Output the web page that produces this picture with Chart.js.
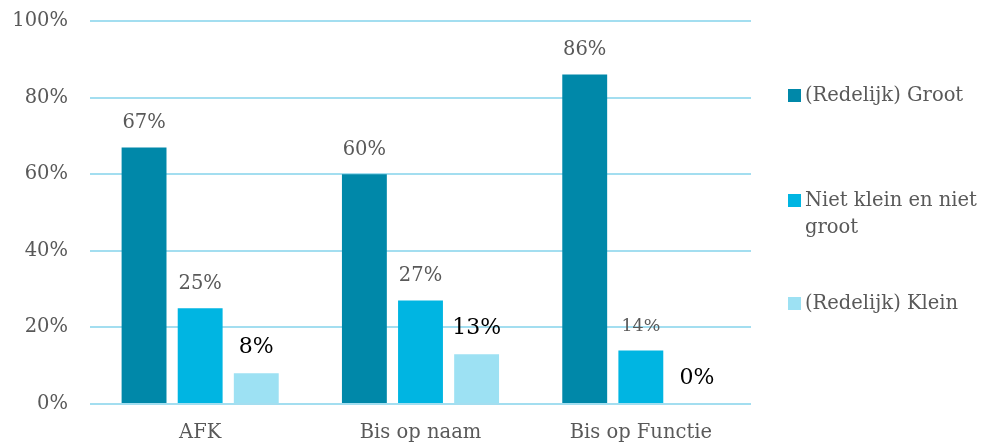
<!DOCTYPE html>
<html lang="nl">
<head>
<meta charset="utf-8">
<title>Grafiek</title>
<script src="https://cdn.jsdelivr.net/npm/chart.js"></script>
<style>
  html, body { margin: 0; padding: 0; background: #ffffff; }
  #wrap { position: relative; width: 995px; height: 446px; }
  #legenda { position: absolute; left: 0; top: 0; width: 995px; height: 446px; pointer-events: none; }
  .item { position: absolute; left: 788px; display: flex; align-items: flex-start; font-family: "DejaVu Serif", serif; font-size: 19.5px; line-height: 27px; color: #595959; }
  .vak { width: 13px; height: 13px; margin-top: 8px; margin-right: 4px; flex: none; }
  .tekst { width: 200px; }
</style>
</head>
<body>
<div id="wrap">
  <canvas id="grafiek" width="995" height="446"></canvas>
  <div id="legenda"></div>
</div>
<script>
// Data uit de grafiek
const categorieen = ["AFK", "Bis op naam", "Bis op Functie"];
const reeksNamen = ["(Redelijk) Groot", "Niet klein en niet groot", "(Redelijk) Klein"];
const groot = [67, 60, 86];
const middel = [25, 27, 14];
const klein = [8, 13, 0];
const yTicks = [0, 20, 40, 60, 80, 100];

const kleuren = ["#0088a9", "#00b5e2", "#9de1f3"];
const rasterKleur = "#a3def0";
const tekstKleur = "#595959";
const lettertype = "'DejaVu Serif', serif";

// Label-opmaak per punt (sommige labels zijn zwart en groter in het origineel)
const labelStijl = [
    [{ c: tekstKleur, s: 19.5 }, { c: tekstKleur, s: 19.5 }, { c: tekstKleur, s: 19.5 }],
    [{ c: tekstKleur, s: 19.5 }, { c: tekstKleur, s: 19.5 }, { c: tekstKleur, s: 17.5 }],
    [{ c: "#000000", s: 22 }, { c: "#000000", s: 22 }, { c: "#000000", s: 22 }]
];

// Plugin: waardelabels boven de staven
const waardeLabels = {
    id: "waardeLabels",
    afterDatasetsDraw(chart) {
        const ctx = chart.ctx;
        chart.data.datasets.forEach((ds, di) => {
            const meta = chart.getDatasetMeta(di);
            meta.data.forEach((bar, i) => {
                const st = labelStijl[di][i];
                ctx.save();
                ctx.fillStyle = st.c;
                ctx.font = `${st.s}px ${lettertype}`;
                ctx.textAlign = "center";
                ctx.textBaseline = "bottom";
                ctx.fillText(`${ds.data[i]}%`, bar.x, bar.y - 15);
                ctx.restore();
            });
        });
    }
};

new Chart(document.getElementById("grafiek"), {
    type: "bar",
    data: {
        labels: categorieen,
        datasets: [groot, middel, klein].map((d, i) => ({
            label: reeksNamen[i],
            data: d,
            backgroundColor: kleuren[i],
            borderWidth: 0,
            categoryPercentage: 0.764,
            barPercentage: 0.8
        }))
    },
    options: {
        responsive: false,
        animation: false,
        layout: { padding: { top: 21, right: 244, left: 0, bottom: 0 } },
        scales: {
            x: {
                grid: { display: false },
                border: { display: false },
                ticks: { color: tekstKleur, font: { family: lettertype, size: 19.5 }, padding: 9 },
                afterFit: (s) => { s.height = 42; }
            },
            y: {
                min: 0,
                max: 100,
                afterBuildTicks: (s) => { s.ticks = yTicks.map(v => ({ value: v })); },
                grid: { color: rasterKleur, lineWidth: 2, drawTicks: false },
                border: { display: false },
                ticks: {
                    color: tekstKleur,
                    font: { family: lettertype, size: 19.5 },
                    padding: 22,
                    callback: (v) => `${v}%`
                },
                afterFit: (s) => { s.width = 90; s.paddingTop = 0; s.paddingBottom = 0; }
            }
        },
        plugins: {
            legend: { display: false },
            tooltip: { enabled: false }
        }
    },
    plugins: [waardeLabels]
});

// Legenda rechts (HTML)
const legendaTop = [81, 186, 289];
const legenda = document.getElementById("legenda");
reeksNamen.forEach((naam, i) => {
    legenda.insertAdjacentHTML("beforeend",
        `<div class="item" style="top:${legendaTop[i]}px"><div class="vak" style="background:${kleuren[i]}"></div><div class="tekst">${naam}</div></div>`);
});
</script>
</body>
</html>
